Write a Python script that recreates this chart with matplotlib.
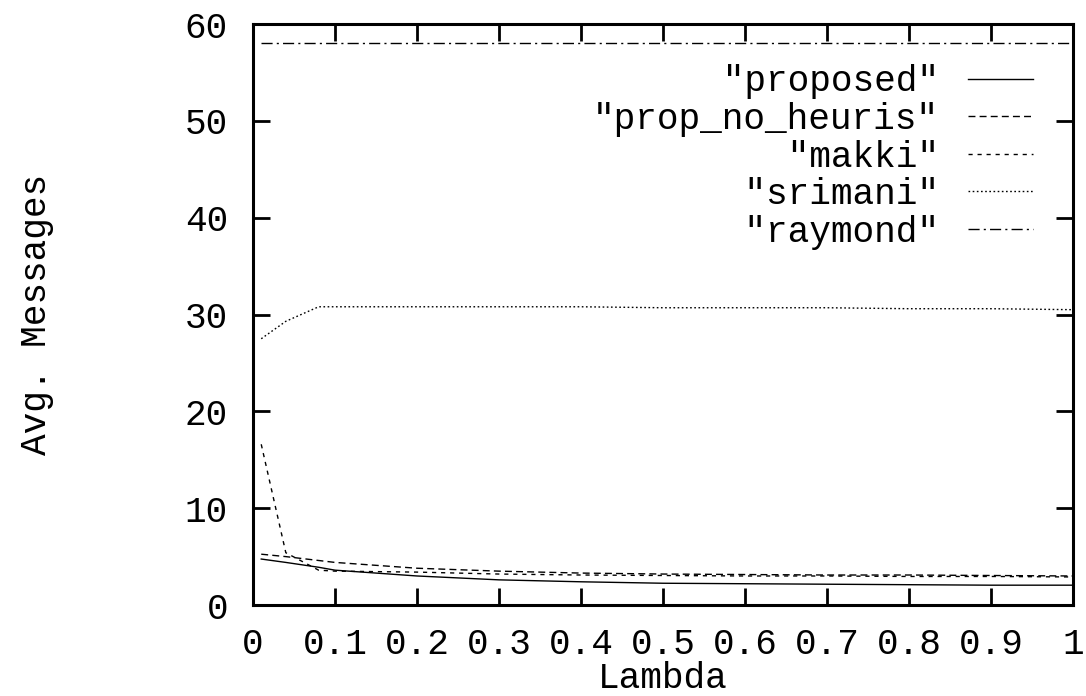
import matplotlib
matplotlib.use("Agg")
import matplotlib.pyplot as plt

# ---------- data ----------
lam = [0.01, 0.04, 0.08, 0.1, 0.2, 0.3, 0.4, 0.5, 0.6, 0.7, 0.8, 0.9, 1.0]
proposed = [4.75, 4.4, 3.9, 3.6, 3.0, 2.6, 2.4, 2.25, 2.2, 2.15, 2.1, 2.05, 2.05]
prop_no_heuris = [5.25, 5.0, 4.6, 4.4, 3.8, 3.5, 3.3, 3.2, 3.15, 3.1, 3.1, 3.05, 3.0]
makki = [16.6, 5.4, 3.6, 3.5, 3.4, 3.2, 3.1, 3.05, 3.0, 3.0, 2.95, 2.95, 2.9]
srimani = [27.5, 29.3, 30.8, 30.8, 30.8, 30.8, 30.8, 30.7, 30.7, 30.7, 30.6, 30.6, 30.5]
raymond = [58, 58, 58, 58, 58, 58, 58, 58, 58, 58, 58, 58, 58]

xticks = [0, 0.1, 0.2, 0.3, 0.4, 0.5, 0.6, 0.7, 0.8, 0.9, 1]
xticklabels = ["0", "0.1", "0.2", "0.3", "0.4", "0.5", "0.6", "0.7", "0.8", "0.9", "1"]
yticks = [0, 10, 20, 30, 40, 50, 60]

plt.rcParams["font.family"] = ["Liberation Mono", "DejaVu Sans Mono"]
FS = 26

fig = plt.figure(figsize=(10.86, 6.96), dpi=100)
ax = fig.add_axes([0.233, 0.1307, 0.755, 0.8348])

series = [
    (proposed, '"proposed"', (None, None)),
    (prop_no_heuris, '"prop_no_heuris"', (0, (5, 3))),
    (makki, '"makki"', (0, (3, 3.5))),
    (srimani, '"srimani"', (0, (1.2, 1.8))),
    (raymond, '"raymond"', (0, (8, 3, 1.5, 3))),
]
width = max(len(lab) for _, lab, _ in series)
for ys, lab, ls in series:
    style = "-" if ls[0] is None else ls
    ax.plot(lam, ys, color="black", lw=1.0, linestyle=style, label=lab.rjust(width))

ax.set_xlim(0, 1)
ax.set_ylim(0, 60)
ax.set_xticks(xticks)
ax.set_xticklabels(xticklabels)
ax.set_yticks(yticks)
ax.tick_params(direction="in", length=12, width=2, top=True, right=True,
               labelsize=FS, pad=16)
ax.tick_params(axis="y", pad=18)
for sp in ax.spines.values():
    sp.set_linewidth(2.2)

ax.set_xlabel("Lambda", fontsize=FS, va="center")
ax.xaxis.set_label_coords(0.5, -0.127)
ax.set_ylabel("Avg. Messages", fontsize=FS, va="center")
ax.yaxis.set_label_coords(-0.264, 0.5)

# legend: labels right-aligned (monospace padding), line sample after the text
ax.legend(loc="upper right", frameon=False, markerfirst=False, fontsize=FS,
          handlelength=1.8, handletextpad=0.8, labelspacing=0.07,
          borderaxespad=0.56, borderpad=0.56)

fig.savefig("out.png", dpi=100)
plt.close()
